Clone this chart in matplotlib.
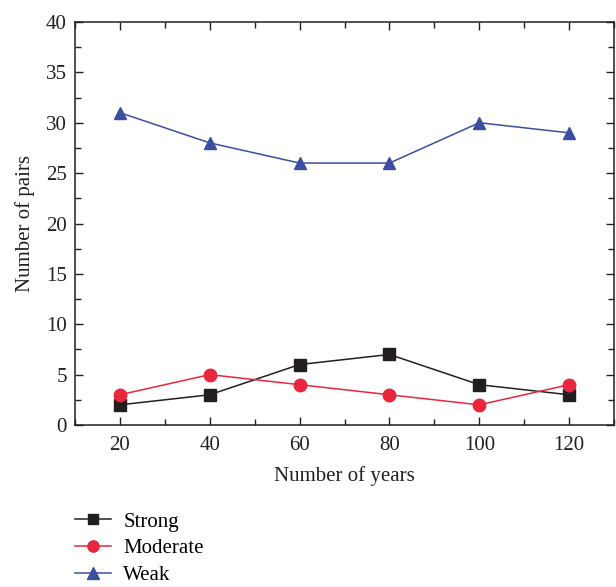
import matplotlib
matplotlib.use("Agg")
import matplotlib.pyplot as plt
from matplotlib.ticker import MultipleLocator

years = [20, 40, 60, 80, 100, 120]
strong = [2, 3, 6, 7, 4, 3]
moderate = [3, 5, 4, 3, 2, 4]
weak = [31, 28, 26, 26, 30, 29]

plt.rcParams['font.family'] = ['Liberation Serif', 'DejaVu Serif']

fig = plt.figure(figsize=(6.16, 5.87), dpi=100)
ax = fig.add_axes([0.1218, 0.276, 0.875, 0.6865])

l1, = ax.plot(years, strong, color='#231f20', marker='s', markersize=8, lw=1.1, label='Strong')
l2, = ax.plot(years, moderate, color='#e8263d', marker='o', markersize=9, lw=1.1, label='Moderate')
l3, = ax.plot(years, weak, color='#3c4ea0', marker='^', markersize=9, lw=1.1, label='Weak')

ax.set_xlim(10, 130)
ax.set_ylim(0, 40)
ax.xaxis.set_major_locator(MultipleLocator(20))
ax.xaxis.set_minor_locator(MultipleLocator(10))
ax.yaxis.set_major_locator(MultipleLocator(5))
ax.yaxis.set_minor_locator(MultipleLocator(2.5))
ax.tick_params(which='both', direction='in', top=True, right=True, labelsize=15, colors='#231f20')
ax.tick_params(axis='x', which='major', pad=8)
ax.tick_params(axis='y', which='major', pad=6)
ax.tick_params(which='major', length=6, width=1)
ax.tick_params(which='minor', length=4, width=1)
for s in ax.spines.values():
    s.set_color('#231f20')
    s.set_linewidth(1.1)

ax.set_xlabel('Number of years', fontsize=15, color='#231f20', labelpad=8)
ax.set_ylabel('Number of pairs', fontsize=15, color='#231f20', labelpad=8)

fig.legend(handles=[l1, l2, l3], loc='upper left', bbox_to_anchor=(0.109, 0.142),
           frameon=False, fontsize=15, handlelength=1.7, labelspacing=0.35,
           borderaxespad=0, handletextpad=0.6, markerscale=0.9)

fig.savefig('out.png', dpi=100)
